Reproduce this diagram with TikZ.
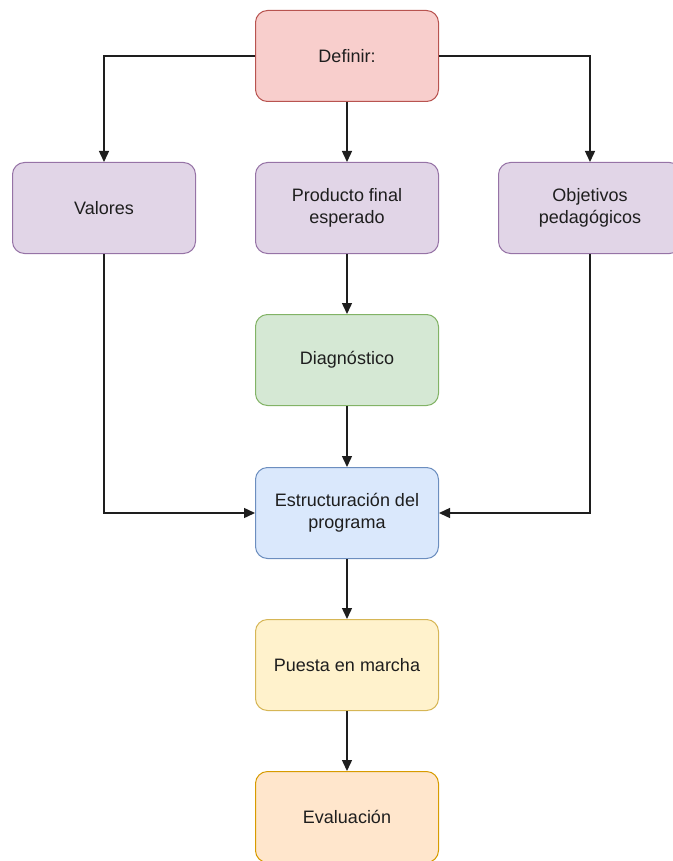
\documentclass[tikz,border=0pt]{standalone}
\usepackage{fontspec}
\setmainfont{Liberation Sans}
\usetikzlibrary{arrows.meta}
\definecolor{redF}{HTML}{F8CECC}\definecolor{redD}{HTML}{B85450}
\definecolor{purF}{HTML}{E1D5E7}\definecolor{purD}{HTML}{9673A6}
\definecolor{grnF}{HTML}{D5E8D4}\definecolor{grnD}{HTML}{82B366}
\definecolor{bluF}{HTML}{DAE8FC}\definecolor{bluD}{HTML}{6C8EBF}
\definecolor{yelF}{HTML}{FFF2CC}\definecolor{yelD}{HTML}{D6B656}
\definecolor{orgF}{HTML}{FFE6CC}\definecolor{orgD}{HTML}{D79B00}
\definecolor{txt}{HTML}{1E1E1E}
\definecolor{ln}{HTML}{1E1E1E}
\begin{document}
\begin{tikzpicture}[x=1pt,y=-1pt,
  box/.style={draw, rounded corners=12pt, minimum width=183pt, minimum height=91pt,
    line width=1pt, align=center, font=\fontsize{18}{21.7}\selectfont, text=txt, inner sep=0pt},
  arr/.style={-{Triangle[length=11pt,width=10pt]}, line width=1.4pt, draw=ln}]
\useasboundingbox (0,0) rectangle (672,861);
\node[box, fill=redF, draw=redD] (def) at (347,56) {Definir:};
\node[box, fill=purF, draw=purD] (val) at (104,208) {Valores};
\node[box, fill=purF, draw=purD] (prod) at (347,208) {Producto final\\esperado};
\node[box, fill=purF, draw=purD] (obj) at (590,208) {Objetivos\\pedagógicos};
\node[box, fill=grnF, draw=grnD] (diag) at (347,360) {Diagnóstico};
\node[box, fill=bluF, draw=bluD] (est) at (347,513) {Estructuración del\\programa};
\node[box, fill=yelF, draw=yelD] (pue) at (347,665) {Puesta en marcha};
\node[box, fill=orgF, draw=orgD] (eva) at (347,817) {Evaluación};
\draw[arr] (def.west) -| (val.north);
\draw[arr] (def.east) -| (obj.north);
\draw[arr] (def) -- (prod);
\draw[arr] (prod) -- (diag);
\draw[arr] (diag) -- (est);
\draw[arr] (val.south) |- (est.west);
\draw[arr] (obj.south) |- (est.east);
\draw[arr] (est) -- (pue);
\draw[arr] (pue) -- (eva);
\end{tikzpicture}
\end{document}
